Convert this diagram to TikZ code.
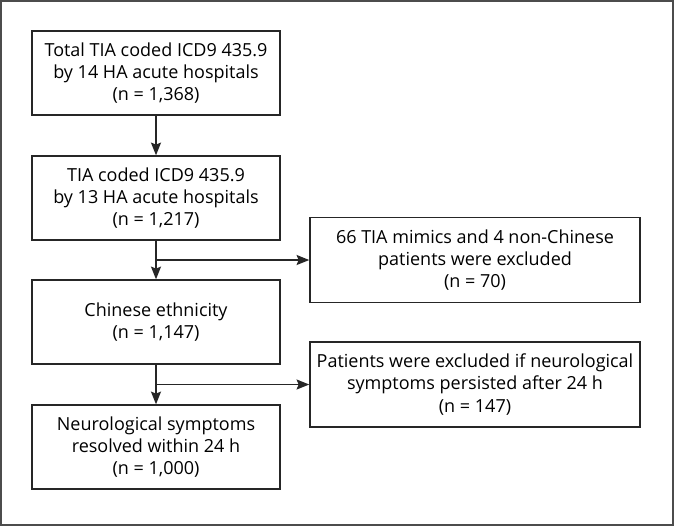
\documentclass[tikz,border=0pt]{standalone}
\usepackage{fontspec}
\setmainfont{Open Sans}
\usetikzlibrary{arrows.meta}
\begin{document}
\begin{tikzpicture}[x=0.75pt,y=-0.75pt,
  box/.style={draw=black!85,line width=1.1pt,align=center,inner sep=0pt,
    font=\fontsize{13.5}{16.8}\selectfont},
  leftbox/.style={box,minimum width=186pt,minimum height=63pt},
  rightbox/.style={box,minimum width=247.5pt,minimum height=63.75pt},
  arr/.style={draw=black!85,line width=1.1pt,-{Stealth[length=9.5pt,width=7.5pt,inset=1.5pt]}},
  ln/.style={draw=black!85,line width=1.1pt}]
\useasboundingbox (0,0) rectangle (674,526);
\draw[draw=black!70,line width=1.5pt] (1,1) rectangle (673,525);
\node[leftbox] (b1) at (156,73) {Total TIA coded ICD9 435.9\\by 14 HA acute hospitals\\(n = 1,368)};
\node[leftbox] (b2) at (156,198) {TIA coded ICD9 435.9\\by 13 HA acute hospitals\\(n = 1,217)};
\node[leftbox] (b3) at (156,322) {Chinese ethnicity\\(n = 1,147)};
\node[leftbox] (b4) at (156,447) {Neurological symptoms\\resolved within 24 h\\(n = 1,000)};
\node[rightbox] (r1) at (475,260) {66 TIA mimics and 4 non-Chinese\\patients were excluded\\(n = 70)};
\node[rightbox] (r2) at (475,384.5) {Patients were excluded if neurological\\symptoms persisted after 24 h\\(n = 147)};
\coordinate (j1) at (156,260);
\coordinate (j2) at (156,384.5);
\draw[arr] (b1) -- (b2);
\draw[arr] (b2) -- (b3);
\draw[arr] (b3) -- (b4);
\draw[arr] (j1) -- (r1.west);
\draw[arr] (j2) -- (r2.west);
\end{tikzpicture}
\end{document}
